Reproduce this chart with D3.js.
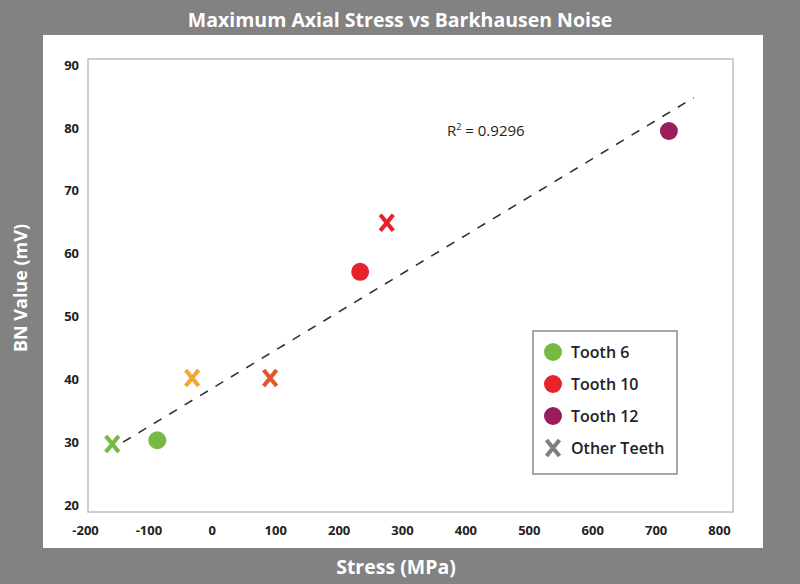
<!DOCTYPE html>
<html>
<head>
<meta charset="utf-8">
<script src="https://cdn.jsdelivr.net/npm/d3@7"></script>
<style>
  body { margin: 0; background: #828282; }
  svg { display: block; font-family: "Open Sans", Lato, sans-serif; }
</style>
</head>
<body>
<div id="chart"></div>
<script>
"use strict";
// values
const pointLabels = ["Other", "Tooth 6", "Other", "Other", "Tooth 10", "Other", "Tooth 12"];
const stressValues = [-157, -86, -31, 92, 234, 276, 721];
const bnValues = [29.7, 30.3, 40.2, 40.2, 57.1, 64.9, 79.5];
const pointColors = ["#78b943", "#78b943", "#f5a534", "#e5572a", "#e8212a", "#e8212a", "#9c1c60"];

const trendStress = [-140, 760];
const trendBN = [30.0, 84.8];

const xTicks = [-200, -100, 0, 100, 200, 300, 400, 500, 600, 700, 800];
const yTicks = [20, 30, 40, 50, 60, 70, 80, 90];

const legendLabels = ["Tooth 6", "Tooth 10", "Tooth 12", "Other Teeth"];
const legendColors = ["#78b943", "#e8212a", "#9c1c60", "#7f7f7f"];

const W = 800, H = 584;
var svg = d3.select('#chart').append('svg').attr('width', W).attr('height', H);

svg.append('rect').attr('width', W).attr('height', H).attr('fill', '#828282');
// white panel
svg.append('rect').attr('x', 43).attr('y', 35).attr('width', 720).attr('height', 513).attr('fill', '#fff');

let x = d3.scaleLinear().domain([-200, 800]).range([85, 719]);
let y = d3.scaleLinear().domain([20, 90]).range([505, 65]);

// plot frame
svg.append('rect')
  .attr('x', 88).attr('y', 59).attr('width', 645).attr('height', 453)
  .attr('fill', 'none').attr('stroke', '#bdbdbd').attr('stroke-width', 1.5);

// axes (labels only)
let xAxis = svg.append('g').attr('transform', 'translate(0,512)')
  .call(d3.axisBottom(x).tickValues(xTicks).tickSize(0).tickPadding(14)
    .tickFormat(function(d){ return String(d); }));
let yAxis = svg.append('g').attr('transform', 'translate(88,0)')
  .call(d3.axisLeft(y).tickValues(yTicks).tickSize(0).tickPadding(9));
[xAxis, yAxis].forEach(function(a){
  a.select('.domain').remove();
  a.selectAll('text').attr('fill', '#222').attr('font-size', 13).attr('font-weight', 700)
    .attr('font-family', '"Open Sans", sans-serif');
});

// trend line
svg.append('line')
  .attr('x1', x(trendStress[0])).attr('y1', y(trendBN[0]))
  .attr('x2', x(trendStress[1])).attr('y2', y(trendBN[1]))
  .attr('stroke', '#333').attr('stroke-width', 1.6).attr('stroke-dasharray', '9,9');

svg.append('text').attr('x', 447).attr('y', 136)
  .attr('font-size', 15).attr('fill', '#222')
  .html('R<tspan dy="-6" font-size="9">2</tspan><tspan dy="6"> = 0.9296</tspan>');

// points
let pts = stressValues.map(function(s, i){
  return { stress: s, bn: bnValues[i], label: pointLabels[i], color: pointColors[i] };
});

function drawX(g, cx, cy, color){
  let rx = 6.5, ry = 8;
  g.append('path')
    .attr('d', 'M' + (cx - rx) + ',' + (cy - ry) + 'L' + (cx + rx) + ',' + (cy + ry) +
               'M' + (cx + rx) + ',' + (cy - ry) + 'L' + (cx - rx) + ',' + (cy + ry))
    .attr('stroke', color).attr('stroke-width', 4.2).attr('fill', 'none');
}

let pg = svg.append('g');
pts.forEach(function(d){
  if (d.label === 'Other') {
    drawX(pg, x(d.stress), y(d.bn), d.color);
  } else {
    pg.append('circle').attr('cx', x(d.stress)).attr('cy', y(d.bn)).attr('r', 9).attr('fill', d.color);
  }
});

// legend
let lg = svg.append('g');
lg.append('rect').attr('x', 533).attr('y', 331).attr('width', 144).attr('height', 143)
  .attr('fill', '#fff').attr('stroke', '#8a8a8a').attr('stroke-width', 1.5);
legendLabels.forEach(function(l, i){
  let cy = 352 + i * 32;
  if (i === 3) drawX(lg, 553, cy, legendColors[i]);
  else lg.append('circle').attr('cx', 553).attr('cy', cy).attr('r', 9).attr('fill', legendColors[i]);
  lg.append('text').attr('x', 571).attr('y', cy + 6).text(l)
    .attr('font-size', 16).attr('font-weight', 600).attr('fill', '#222');
});

// titles
svg.append('text').attr('x', 400).attr('y', 27).attr('text-anchor', 'middle')
  .attr('fill', '#fff').attr('font-size', 19.5).attr('font-weight', 700)
  .text('Maximum Axial Stress vs Barkhausen Noise');
svg.append('text').attr('x', 396).attr('y', 574).attr('text-anchor', 'middle')
  .attr('fill', '#fff').attr('font-size', 19.5).attr('font-weight', 700)
  .text('Stress (MPa)');
svg.append('text').attr('transform', 'translate(27,288) rotate(-90)').attr('text-anchor', 'middle')
  .attr('fill', '#fff').attr('font-size', 18).attr('font-weight', 700)
  .text('BN Value (mV)');
</script>
</body>
</html>
